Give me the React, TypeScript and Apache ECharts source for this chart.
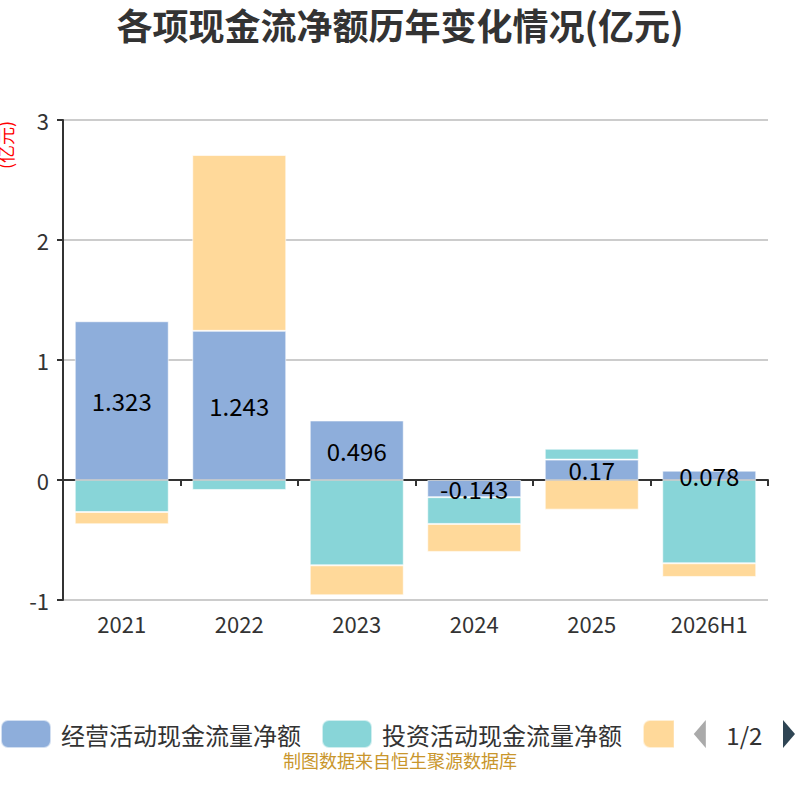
import React, { useEffect, useRef } from "react";
import * as echarts from "echarts";

const categories = ["2021", "2022", "2023", "2024", "2025", "2026H1"];
const seriesNames = ["经营活动现金流量净额", "投资活动现金流量净额", "筹资活动现金流量净额"];
const operating = [1.323, 1.243, 0.496, -0.143, 0.17, 0.078];
const investing = [-0.267, -0.083, -0.711, -0.223, 0.091, -0.694];
const financing = [-0.102, 1.465, -0.25, -0.233, -0.247, -0.114];
const colors = ["#8eaedb", "#88d5d8", "#ffd99a"];

export default function App() {
  const ref = useRef<HTMLDivElement>(null);
  useEffect(() => {
    if (!ref.current) return;
    const chart = echarts.init(ref.current, null, { renderer: "svg" });
    const font = "'Noto Sans CJK SC', 'Noto Sans', sans-serif";
    const mk = (name: string, data: number[], color: string, label: boolean) => ({
      name,
      type: "bar",
      stack: "total",
      data,
      barWidth: "80%",
      itemStyle: { color, borderColor: "rgba(255,255,255,0.6)", borderWidth: 1 },
      label: label
        ? { show: true, position: "inside", color: "#000", fontSize: 24, fontFamily: font }
        : { show: false },
    });
    chart.setOption({
      animation: false,
      textStyle: { fontFamily: font },
      title: {
        text: "各项现金流净额历年变化情况(亿元)",
        left: "center",
        top: 1,
        textStyle: { fontSize: 36, fontWeight: "bold", color: "#333", fontFamily: font },
      },
      graphic: [
        {
          type: "text",
          left: "center",
          top: 751,
          style: { text: "制图数据来自恒生聚源数据库", fill: "#c9962c", fontSize: 18, fontFamily: font },
        },
        {
          type: "text",
          x: 5,
          y: 145,
          rotation: Math.PI / 2,
          style: {
            text: "(亿元)",
            fill: "#ff0000",
            fontSize: 18,
            fontFamily: font,
            align: "center",
            verticalAlign: "middle",
          },
        },
      ],
      legend: {
        type: "scroll",
        bottom: 46,
        left: 0,
        right: 0,
        padding: [5, 5, 5, 0],
        itemWidth: 50,
        itemHeight: 28,
        itemGap: 20,
        icon: "roundRect",
        textStyle: { fontSize: 24, color: "#333", fontFamily: font, padding: [0, 0, 0, 5] },
        pageTextStyle: { fontSize: 24, color: "#333", fontFamily: font },
        pageIcons: {
          horizontal: ["path://M12,0L0,14L12,28z", "path://M0,0L12,14L0,28z"],
        },
        pageIconColor: "#2f4554",
        pageIconInactiveColor: "#aaa",
        pageIconSize: 28,
        pageButtonItemGap: 10,
        pageButtonGap: 20,
        data: seriesNames,
      },
      grid: { left: 63, right: 32, top: 120, bottom: 200 },
      xAxis: {
        type: "category",
        data: categories,
        axisLine: { onZero: true, lineStyle: { color: "#333", width: 2 } },
        axisTick: { show: true, lineStyle: { color: "#333", width: 2 }, length: 6 },
        axisLabel: { fontSize: 22, color: "#333", margin: 12, fontFamily: font },
      },
      yAxis: {
        type: "value",
        min: -1,
        max: 3,
        interval: 1,
        axisLine: { show: true, lineStyle: { color: "#333", width: 2 } },
        axisTick: { show: true, lineStyle: { color: "#333", width: 2 }, length: 6 },
        axisLabel: { fontSize: 22, color: "#333", margin: 14, fontFamily: font },
        splitLine: { lineStyle: { color: "#ccc", width: 2 } },
      },
      series: [
        mk(seriesNames[0], operating, colors[0], true),
        mk(seriesNames[1], investing, colors[1], false),
        mk(seriesNames[2], financing, colors[2], false),
      ],
    });
    return () => chart.dispose();
  }, []);
  return (
    <div
      ref={ref}
      style={{ position: "absolute", left: 0, top: 0, width: 800, height: 800 }}
    />
  );
}
